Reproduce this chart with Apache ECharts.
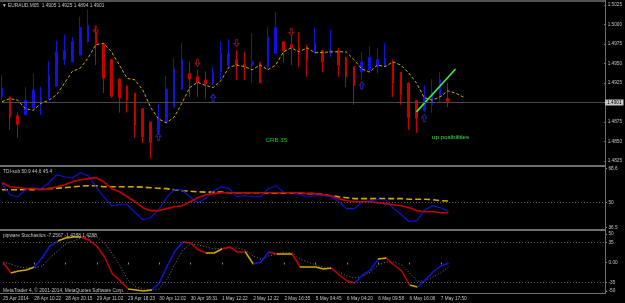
<!DOCTYPE html>
<html><head><meta charset="utf-8">
<script src="https://cdn.jsdelivr.net/npm/echarts/dist/echarts.min.js"></script>
<style>html,body{margin:0;padding:0;background:#000}#c{width:625px;height:303px}</style>
</head><body><div id="c"></div>
<script>
// ---------- DATA ----------
const timeLabels = ["25 Apr 2014","28 Apr 10:22","28 Apr 20:15","29 Apr 11:02","29 Apr 18:23","30 Apr 12:02","30 Apr 18:31","1 May 12:22","2 May 12:22","2 May 16:35","5 May 04:45","6 May 04:20","6 May 09:58","6 May 16:06","7 May 17:50"];
const barsPerLabel = 4;
const totalSlots = 78;
// [open, close, low, high]
const candles = [
[1.4907,1.4919,1.4903,1.4935],[1.4907,1.4881,1.4865,1.4908],[1.4883,1.4872,1.4855,1.4887],[1.4884,1.4903,1.4884,1.4920],
[1.4893,1.4916,1.4890,1.4937],[1.4899,1.4907,1.4884,1.4920],[1.4906,1.4935,1.4903,1.4953],[1.4921,1.4965,1.4920,1.4979],
[1.4955,1.4967,1.4948,1.4987],[1.4952,1.4978,1.4951,1.4984],[1.4961,1.4996,1.4961,1.5010],[1.4978,1.4999,1.4976,1.5019],
[1.4990,1.4974,1.4948,1.4996],[1.4975,1.4931,1.4912,1.4976],[1.4955,1.4908,1.4906,1.4955],[1.4930,1.4906,1.4887,1.4931],
[1.4921,1.4903,1.4887,1.4922],[1.4912,1.4871,1.4855,1.4912],[1.4892,1.4856,1.4848,1.4892],[1.4875,1.4849,1.4828,1.4875],
[1.4861,1.4880,1.4860,1.4898],[1.4874,1.4917,1.4874,1.4934],[1.4894,1.4943,1.4894,1.4957],[1.4917,1.4955,1.4917,1.4976],
[1.4937,1.4930,1.4907,1.4952],[1.4933,1.4925,1.4907,1.4942],[1.4929,1.4924,1.4905,1.4940],[1.4925,1.4938,1.4922,1.4946],
[1.4939,1.4963,1.4929,1.4978],[1.4948,1.4963,1.4946,1.4981],[1.4955,1.4948,1.4929,1.4967],[1.4949,1.4946,1.4929,1.4965],
[1.4948,1.4952,1.4925,1.4989],[1.4951,1.4925,1.4925,1.4952],[1.4946,1.4984,1.4942,1.4997],[1.4963,1.4996,1.4963,1.5016],
[1.4978,1.4967,1.4951,1.4978],[1.4974,1.4970,1.4948,1.4987],[1.4970,1.4967,1.4946,1.4990],[1.4971,1.4955,1.4933,1.4974],
[1.4963,1.4976,1.4963,1.4996],[1.4967,1.4952,1.4939,1.4967],[1.4963,1.4967,1.4958,1.4993],[1.4967,1.4948,1.4933,1.4970],
[1.4958,1.4933,1.4920,1.4958],[1.4946,1.4921,1.4897,1.4946],[1.4939,1.4952,1.4929,1.4965],[1.4942,1.4958,1.4939,1.4972],
[1.4946,1.4955,1.4937,1.4970],[1.4946,1.4957,1.4946,1.4976],[1.4952,1.4925,1.4907,1.4955],[1.4939,1.4910,1.4897,1.4939],
[1.4925,1.4881,1.4865,1.4925],[1.4903,1.4880,1.4861,1.4903],[1.4890,1.4908,1.4888,1.4922],[1.4897,1.4913,1.4887,1.4930],
[1.4907,1.4929,1.4901,1.4939],[1.4905,1.4901,1.4894,1.4925]
];
const maLine = [1.4901,1.4905,1.4903,1.4892,1.4890,1.4899,1.4903,1.4910,1.4925,1.4940,1.4944,1.4957,1.4974,1.4976,1.4965,1.4948,1.4931,1.4929,1.4916,1.4894,
1.4879,1.4874,1.4881,1.4899,1.4919,1.4926,1.4922,1.4919,1.4928,1.4945,1.4948,1.4946,1.4942,1.4948,1.4942,1.4948,1.4965,1.4970,1.4965,1.4970,
1.4964,1.4964,1.4965,1.4965,1.4965,1.4955,1.4943,1.4939,1.4948,1.4946,1.4952,1.4948,1.4938,1.4925,1.4906,1.4903,1.4907,1.4915,1.4912,1.4907];
const sellArrows = [[12,1.4993],[25,1.4951],[30,1.4976],[37,1.4990]];
const buyArrows = [[20,1.4856],[27,1.4906],[46,1.4922],[54,1.4880]];
const trendLine = [[53,1.4888],[58,1.4943]];
const priceTicks = [1.4825,1.4850,1.4875,1.4900,1.4925,1.4950,1.4975,1.5000,1.5025];
const lastPrice = 1.4901;
const titleText = "\u25BC EURAUD,M05  1.4905 1.4925 1.4894 1.4901";

const tdiBlue = [60.3,54.3,53.2,57.0,58.1,57.6,60.8,65.1,64.0,63.5,66.2,64.6,58.6,53.2,48.4,48.9,48.9,44.6,40.8,41.9,
46.2,52.7,57.0,57.0,53.2,50.0,52.2,56.5,58.6,57.6,53.2,53.8,53.2,53.2,57.6,59.2,55.4,55.4,54.3,53.2,
53.8,53.8,53.2,50.5,46.8,46.8,50.5,51.1,51.6,51.6,46.8,43.5,39.7,40.3,46.2,48.4,47.3,45.4];
const tdiRed = [60.8,58.6,58.1,57.6,57.6,57.0,57.6,58.6,59.7,61.3,62.4,63.0,63.5,61.3,57.6,55.9,53.2,50.5,47.3,45.7,
45.7,46.8,47.8,48.4,50.5,52.7,54.3,54.9,55.4,55.4,55.4,55.4,55.4,55.4,55.4,55.4,55.4,55.4,55.4,54.9,
54.9,54.3,53.8,52.2,51.1,50.5,50.5,50.5,50.0,49.5,48.9,48.4,47.3,45.7,45.1,45.1,44.6,44.6];
const tdiYellow = [57.0,57.0,57.0,57.0,57.0,57.3,57.6,57.8,58.1,58.6,58.9,59.2,59.2,58.6,58.6,58.6,58.6,58.6,58.4,58.1,
57.8,57.6,57.0,56.5,56.2,55.9,55.7,55.7,55.7,55.4,55.4,55.4,55.4,55.4,55.1,55.1,55.1,55.1,55.1,54.9,
54.9,54.3,53.8,53.2,52.7,52.2,52.2,52.2,52.2,52.2,52.2,52.2,51.9,51.9,51.9,51.6,51.1,50.9];
const tdiTicks = [68.6, 50, 36.5];
const tdiLevel = 50;
const tdiTitle = "TDI-sub 50.9 44.6 45.4";

const stochMain = [0.9,-18.4,-14.9,-13.2,-7.9,7.9,28.9,37.7,43.0,44.7,44.7,39.5,28.9,9.6,-20.2,-32.5,-46.5,-48.2,-50.0,-48.2,
-36.0,-6.1,20.2,36.0,34.2,21.9,16.7,16.7,23.7,27.2,18.4,18.4,-2.6,0.9,18.4,14.9,14.9,14.9,-7.9,-7.9,
-7.9,-11.4,-9.6,-21.9,-32.5,-36.0,-21.9,-13.2,6.1,7.9,-4.4,-14.9,-39.5,-43.0,-30.7,-16.7,-6.1,-1.4];
const stochSignal = [0.9,-2.6,-7.9,-9.6,-9.6,-6.1,7.9,20.2,32.5,37.7,43.0,44.7,44.7,34.2,14.9,-6.1,-30.7,-43.0,-46.5,-48.2,
-46.5,-28.9,-2.6,21.9,32.5,30.7,27.2,23.7,25.4,25.4,25.4,21.9,11.4,6.1,11.4,14.9,18.4,16.7,6.1,0.9,
-4.4,-7.9,-11.4,-16.7,-23.7,-27.2,-23.7,-16.7,-4.4,0.9,0.9,-4.4,-18.4,-32.5,-32.5,-25.4,-18.4,-7.3];
// [fromBar, toBar, state]
const stochStates = [[0,1,'down'],[1,4,'flat'],[4,7,'up'],[7,10,'flat'],[10,16,'down'],[16,19,'flat'],[19,23,'up'],[23,26,'down'],
[26,28,'flat'],[28,31,'down'],[31,32,'flat'],[32,34,'up'],[34,35,'down'],[35,37,'flat'],[37,38,'down'],[38,42,'flat'],
[42,45,'down'],[45,48,'up'],[48,49,'flat'],[49,52,'down'],[52,53,'flat'],[53,58,'up']];
const stochTicks = [50, 35, 0, -35, -50];
const stochLevels = [35, -35];
const stochTitle = "pipware Stochastics -7.2567 -1.4288 1.4288";
const copyright = "MetaTrader 4, \u00A9 2001-2014, MetaQuotes Software Corp.";
const note1 = "CRB 35";
const note2 = "up posibilities";

// ---------- STYLE / LAYOUT ----------
const FONT = 'Liberation Sans';
const TXT = '#c4c4c4';
const FRAME = '#6e6e6e';
const BLUE = '#1212e0', RED = '#c60000', YEL = '#d2a800';
const stateColor = {up: BLUE, down: RED, flat: YEL};
const xSlots = Array.from({length: totalSlots}, (_, i) => String(i));
const isLabelBar = (i) => i % barsPerLabel === 0 && i / barsPerLabel < timeLabels.length;
const arrowPath = 'path://M3,0 L7,0 L7,6 L10,6 L5,11 L0,6 L3,6 Z';

function xAxisFor(g) {
  return {
    type: 'category', gridIndex: g, data: xSlots, boundaryGap: false, show: g === 2,
    axisLine: {show: false},
    axisTick: {show: true, interval: (i) => isLabelBar(i), length: 2, lineStyle: {color: '#8a8a8a', width: 1}},
    axisLabel: {interval: (i) => isLabelBar(i), formatter: (v, i) => timeLabels[i / barsPerLabel] || '',
      align: 'left', margin: 3, fontSize: 4.7, color: TXT, fontFamily: FONT},
    splitLine: {show: false}
  };
}
function yAxisFor(g, min, max, ticks, fmt) {
  return {
    type: 'value', gridIndex: g, position: 'right', min: min, max: max, scale: true,
    splitLine: {show: false}, axisLine: {show: false},
    axisTick: {show: true, customValues: ticks, length: 2, lineStyle: {color: '#8a8a8a'}},
    axisLabel: {customValues: ticks, formatter: fmt, margin: 3.5, fontSize: 4.7, color: TXT, fontFamily: FONT}
  };
}
function txt(text, x, y, color, size) {
  return {type: 'text', silent: true, z: 10, style: {text: text, x: x, y: y, fill: color, fontSize: size, fontFamily: FONT, verticalAlign: 'middle'}};
}
function hline(y, x2, w) {
  return {type: 'line', silent: true, z: 5, shape: {x1: 0, y1: y, x2: x2, y2: y}, style: {stroke: FRAME, lineWidth: w}};
}

const chart = echarts.init(document.getElementById('c'), null, {renderer: 'canvas'});
chart.setOption({
  backgroundColor: '#000',
  animation: false,
  grid: [
    {left: 2, right: 20, top: 1.5, height: 164},
    {left: 2, right: 20, top: 168, height: 61},
    {left: 2, right: 20, top: 231, height: 62}
  ],
  xAxis: [xAxisFor(0), xAxisFor(1), xAxisFor(2)],
  yAxis: [
    yAxisFor(0, 1.48192, 1.50295, priceTicks, (v) => Math.abs(v - lastPrice) < 0.0005 ? '' : v.toFixed(4)),
    yAxisFor(1, 35.8, 68.75, tdiTicks, (v) => String(v)),
    yAxisFor(2, -53.5, 55.26, stochTicks, (v) => v === 0 ? '0.00' : String(v))
  ],
  visualMap: [{
    type: 'piecewise', show: false, seriesIndex: 9, dimension: 0,
    pieces: stochStates.map(([a, b, s]) => ({gte: a, lt: b, color: stateColor[s]})),
    outOfRange: {color: BLUE}
  }],
  graphic: [
    hline(1, 605, 1.5), hline(166, 605, 2), hline(230, 605, 2), hline(293.5, 605, 1),
    {type: 'line', silent: true, z: 5, shape: {x1: 605.5, y1: 0, x2: 605.5, y2: 294}, style: {stroke: FRAME, lineWidth: 1}},
    txt(titleText, 2, 5.5, TXT, 4.8),
    txt(tdiTitle, 3, 171.5, TXT, 4.8),
    txt(stochTitle, 3, 236, TXT, 4.8),
    txt(copyright, 3, 290.5, TXT, 4.8),
    txt(note1, 265.5, 140, '#1ec81e', 6.2),
    txt(note2, 432, 137.5, '#48e048', 6.2)
  ],
  series: [
    {type: 'candlestick', xAxisIndex: 0, yAxisIndex: 0, data: candles, barWidth: 2.1, clip: false,
      itemStyle: {color: BLUE, color0: RED, borderColor: BLUE, borderColor0: RED, borderWidth: 1},
      markLine: {silent: true, symbol: 'none', animation: false, data: [{yAxis: lastPrice}],
        lineStyle: {color: '#4a4a4a', type: 'solid', width: 1},
        label: {show: true, position: 'end', formatter: lastPrice.toFixed(4), backgroundColor: '#c8c8c8',
          color: '#000', fontSize: 4.7, fontFamily: FONT, padding: [1, 2, 0, 2], distance: 1}}},
    {type: 'line', xAxisIndex: 0, yAxisIndex: 0, data: maLine, symbol: 'none', z: 3,
      lineStyle: {color: YEL, width: 1, type: [3, 2]}},
    {type: 'scatter', xAxisIndex: 0, yAxisIndex: 0, data: sellArrows, symbol: arrowPath, symbolSize: [5, 7],
      itemStyle: {color: 'rgba(0,0,0,0)', borderColor: '#a81a1a', borderWidth: 1}},
    {type: 'scatter', xAxisIndex: 0, yAxisIndex: 0, data: buyArrows, symbol: arrowPath, symbolSize: [5, 7], symbolRotate: 180,
      itemStyle: {color: 'rgba(0,0,0,0)', borderColor: '#2a2ac8', borderWidth: 1}},
    {type: 'line', xAxisIndex: 0, yAxisIndex: 0, data: trendLine, symbol: 'none', z: 4,
      lineStyle: {color: '#3cf03c', width: 1.6}},
    {type: 'line', xAxisIndex: 1, yAxisIndex: 1, data: tdiYellow, symbol: 'none',
      lineStyle: {color: YEL, width: 1.6, type: [6, 3]},
      markLine: {silent: true, symbol: 'none', animation: false, data: [{yAxis: tdiLevel}], label: {show: false},
        lineStyle: {color: '#5a5a5a', type: [1, 2], width: 1}}},
    {type: 'line', xAxisIndex: 1, yAxisIndex: 1, data: tdiBlue, symbol: 'none',
      lineStyle: {color: BLUE, width: 1.1}},
    {type: 'line', xAxisIndex: 1, yAxisIndex: 1, data: tdiRed, symbol: 'none',
      lineStyle: {color: RED, width: 1.6}},
    {type: 'line', xAxisIndex: 2, yAxisIndex: 2, data: stochSignal, symbol: 'none',
      lineStyle: {color: '#7a7a7a', width: 1, type: [1, 2]},
      markLine: {silent: true, symbol: 'none', animation: false, data: stochLevels.map(v => ({yAxis: v})), label: {show: false},
        lineStyle: {color: '#5a5a5a', type: [1, 2], width: 1}}},
    {type: 'line', xAxisIndex: 2, yAxisIndex: 2, data: stochMain, symbol: 'none',
      lineStyle: {width: 1.5}}
  ]
});
</script>
</body></html>
